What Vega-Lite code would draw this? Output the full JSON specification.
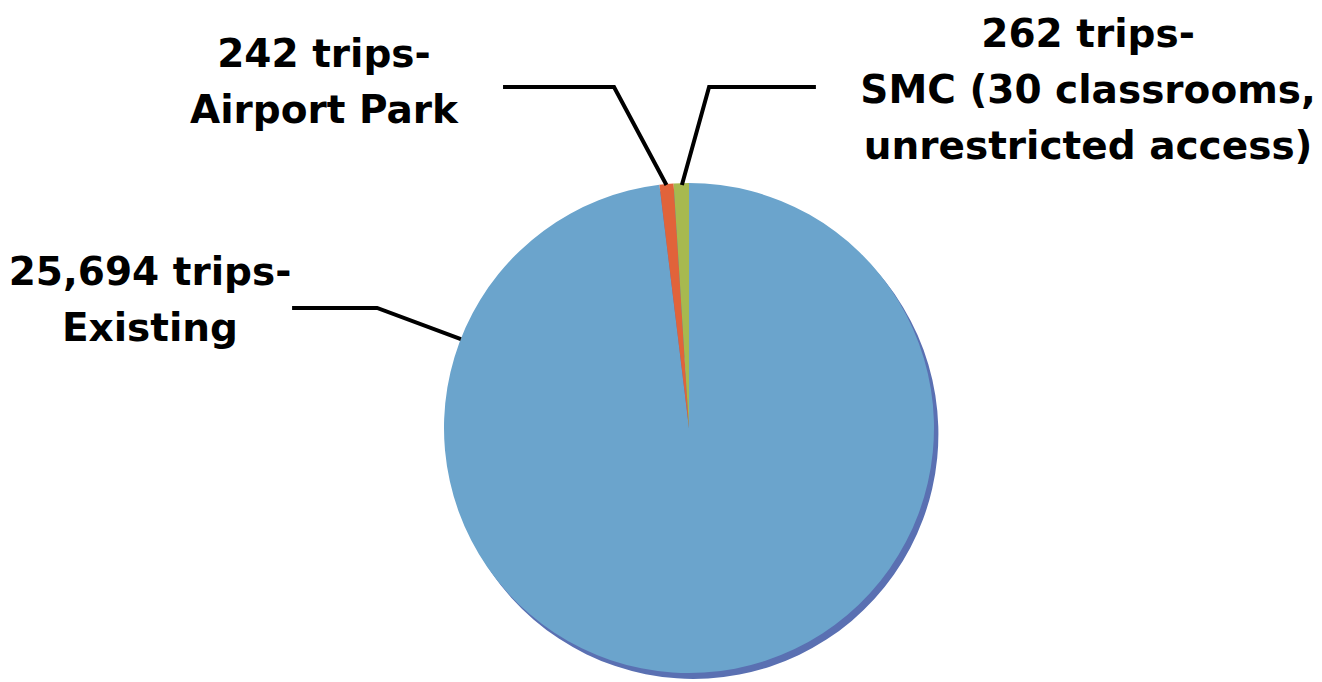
{
  "$schema": "https://vega.github.io/schema/vega-lite/v6.json",
  "width": 1322,
  "height": 682,
  "autosize": {"type": "fit", "contains": "padding"},
  "padding": 0,
  "background": "white",
  "config": {"view": {"stroke": null}},
  "datasets": {
    "trips": [
      {"k": 1, "segment": "Existing", "trips": 25694},
      {"k": 2, "segment": "Airport Park", "trips": 242},
      {"k": 3, "segment": "SMC", "trips": 262}
    ],
    "leaders": [
      {"g": "Existing", "i": 0, "x": -1.620, "y": 0.490},
      {"g": "Existing", "i": 1, "x": -1.273, "y": 0.490},
      {"g": "Existing", "i": 2, "x": -0.931, "y": 0.363},
      {"g": "Airport Park", "i": 0, "x": -0.759, "y": 1.392},
      {"g": "Airport Park", "i": 1, "x": -0.306, "y": 1.392},
      {"g": "Airport Park", "i": 2, "x": -0.092, "y": 0.992},
      {"g": "SMC", "i": 0, "x": 0.518, "y": 1.392},
      {"g": "SMC", "i": 1, "x": 0.082, "y": 1.392},
      {"g": "SMC", "i": 2, "x": -0.029, "y": 0.992}
    ],
    "labels": [
      {"label": "25,694 trips-\nExisting", "x": -2.200, "y": 0.584},
      {"label": "242 trips-\nAirport Park", "x": -1.490, "y": 1.473},
      {"label": "262 trips-\nSMC (30 classrooms,\nunrestricted access)", "x": 1.629, "y": 1.555}
    ]
  },
  "layer": [
    {
      "data": {"name": "trips"},
      "mark": {"type": "arc", "radius": 245, "fill": "#5a70b2", "strokeWidth": 0},
      "encoding": {
        "theta": {"field": "trips", "type": "quantitative", "stack": true},
        "order": {"field": "k"},
        "x": {"datum": 0.018, "type": "quantitative", "scale": {"domain": [-2.8122, 2.5837], "nice": false, "zero": false}, "axis": null},
        "y": {"datum": -0.024, "type": "quantitative", "scale": {"domain": [-1.0367, 1.7469], "nice": false, "zero": false}, "axis": null}
      }
    },
    {
      "data": {"name": "trips"},
      "mark": {"type": "arc", "radius": 245, "strokeWidth": 0},
      "encoding": {
        "theta": {"field": "trips", "type": "quantitative", "stack": true},
        "order": {"field": "k"},
        "color": {
          "field": "segment",
          "type": "nominal",
          "scale": {"domain": ["Existing", "Airport Park", "SMC"], "range": ["#6ba4cc", "#e1633a", "#a7b94f"]},
          "legend": null
        },
        "x": {"datum": 0, "type": "quantitative"},
        "y": {"datum": 0, "type": "quantitative"}
      }
    },
    {
      "data": {"name": "leaders"},
      "mark": {"type": "line", "color": "black", "strokeWidth": 4, "strokeJoin": "miter"},
      "encoding": {
        "x": {"field": "x", "type": "quantitative"},
        "y": {"field": "y", "type": "quantitative"},
        "detail": {"field": "g"},
        "order": {"field": "i"}
      }
    },
    {
      "data": {"name": "labels"},
      "mark": {"type": "text", "font": "DejaVu Sans", "fontWeight": "bold", "fontSize": 39, "align": "center", "baseline": "alphabetic", "lineBreak": "\n", "lineHeight": 56, "color": "black"},
      "encoding": {
        "x": {"field": "x", "type": "quantitative"},
        "y": {"field": "y", "type": "quantitative"},
        "text": {"field": "label"}
      }
    }
  ]
}
